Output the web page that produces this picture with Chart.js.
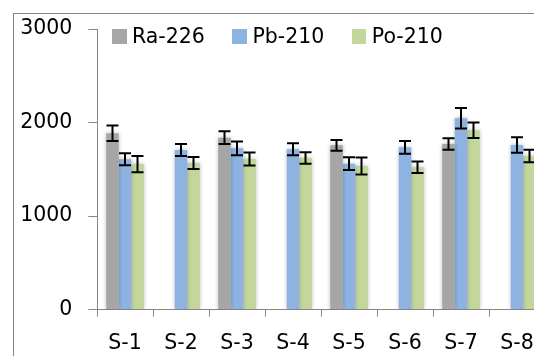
<!DOCTYPE html>
<html>
<head>
<meta charset="utf-8">
<script src="https://cdn.jsdelivr.net/npm/chart.js@4/dist/chart.umd.min.js"></script>
<style>
  html, body { margin: 0; padding: 0; background: #ffffff; overflow: hidden; width: 534px; height: 356px; }
  #frame { position: absolute; left: 13px; top: 13px; width: 700px; height: 700px;
           border-left: 1px solid #868686; border-top: 1px solid #868686; box-sizing: border-box; }
  #wrap { position: absolute; left: 0; top: 0; width: 600px; height: 356px; }
  #legend { position: absolute; left: 112px; top: 26px; height: 20px; display: flex; align-items: center;
            font-family: 'DejaVu Sans', sans-serif; font-size: 20.5px; color: #000; }
  #legend .item { display: flex; align-items: center; margin-right: 27.5px; }
  #legend .box { width: 14.5px; height: 15px; margin-right: 5.5px; }
  #legend .txt { line-height: 20px; white-space: nowrap; }
</style>
</head>
<body>
<div id="frame"></div>
<div id="wrap"><canvas id="chart" width="600" height="356"></canvas></div>
<div id="legend"></div>
<script>
// Sampling sites
const categories = ['S-1', 'S-2', 'S-3', 'S-4', 'S-5', 'S-6', 'S-7', 'S-8'];

// Activity values per nuclide (null = not measured)
const ra226 = [1886, null, 1839, null, 1757, null, 1771, null];
const pb210 = [1607, 1707, 1725, 1714, 1560, 1736, 2046, 1760];
const po210 = [1557, 1568, 1611, 1621, 1536, 1522, 1918, 1643];

// Uncertainties (±)
const ra226Err = [82, null, 68, null, 57, null, 62, null];
const pb210Err = [64, 64, 73, 64, 68, 68, 109, 82];
const po210Err = [87, 64, 70, 62, 91, 61, 82, 66];

// Value axis ticks
const yTicks = [0, 1000, 2000, 3000];

const FONT = "'DejaVu Sans', sans-serif";
const AXIS_COLOR = '#868686';

// Soft halo under each bar
const barShadow = {
  id: 'barShadow',
  beforeDatasetDraw(chart) {
    const ctx = chart.ctx;
    ctx.save();
    ctx.shadowColor = 'rgba(0,0,0,0.28)';
    ctx.shadowBlur = 4;
    ctx.shadowOffsetX = 0;
    ctx.shadowOffsetY = 0;
  },
  afterDatasetDraw(chart) {
    chart.ctx.restore();
  }
};

// Error bars drawn from each dataset's errors array
const errorBars = {
  id: 'errorBars',
  afterDatasetsDraw(chart) {
    const ctx = chart.ctx;
    const y = chart.scales.y;
    ctx.save();
    ctx.strokeStyle = '#000000';
    ctx.lineWidth = 2;
    chart.data.datasets.forEach((ds, i) => {
      const meta = chart.getDatasetMeta(i);
      meta.data.forEach((bar, j) => {
        const v = ds.data[j];
        const e = ds.errors[j];
        if (v == null || e == null) return;
        const x = bar.x;
        const half = 6;
        const top = y.getPixelForValue(v + e);
        const bot = y.getPixelForValue(v - e);
        ctx.beginPath();
        ctx.moveTo(x, top); ctx.lineTo(x, bot);
        ctx.moveTo(x - half, top); ctx.lineTo(x + half, top);
        ctx.moveTo(x - half, bot); ctx.lineTo(x + half, bot);
        ctx.stroke();
      });
    });
    ctx.restore();
  }
};

const chart = new Chart(document.getElementById('chart'), {
  type: 'bar',
  data: {
    labels: categories,
    datasets: [
      { label: 'Ra-226', data: ra226, errors: ra226Err, backgroundColor: '#A6A6A6' },
      { label: 'Pb-210', data: pb210, errors: pb210Err, backgroundColor: '#8DB3E2' },
      { label: 'Po-210', data: po210, errors: po210Err, backgroundColor: '#C3D69B' }
    ]
  },
  options: {
    responsive: false,
    animation: false,
    devicePixelRatio: 1,
    layout: { padding: { left: 0, right: 55, top: 29, bottom: 0 } },
    datasets: { bar: { categoryPercentage: 0.67, barPercentage: 1.0, borderWidth: 0 } },
    plugins: { legend: { display: false }, tooltip: { enabled: false } },
    scales: {
      x: {
        offset: true,
        grid: { offset: true, drawOnChartArea: false, drawTicks: true, tickLength: 7, color: AXIS_COLOR, lineWidth: 1 },
        border: { display: true, color: AXIS_COLOR, width: 1 },
        ticks: { color: '#000', font: { family: FONT, size: 20.5 }, padding: 14.5, maxRotation: 0, autoSkip: false },
        afterFit(s) { s.height = 46.3; }
      },
      y: {
        min: 0, max: 3000,
        afterBuildTicks(s) { s.ticks = yTicks.map(v => ({ value: v })); },
        grid: { drawOnChartArea: false, drawTicks: true, tickLength: 8.7, color: AXIS_COLOR, lineWidth: 1 },
        border: { display: true, color: AXIS_COLOR, width: 1 },
        ticks: { color: '#000', font: { family: FONT, size: 20.5 }, padding: 16, callback: v => String(v) },
        afterFit(s) { s.width = 97; }
      }
    }
  },
  plugins: [barShadow, errorBars]
});

// HTML legend built from the chart's datasets
const legendEl = document.getElementById('legend');
chart.data.datasets.forEach(ds => {
  const item = document.createElement('div');
  item.className = 'item';
  const box = document.createElement('span');
  box.className = 'box';
  box.style.background = ds.backgroundColor;
  const txt = document.createElement('span');
  txt.className = 'txt';
  txt.textContent = ds.label;
  item.appendChild(box);
  item.appendChild(txt);
  legendEl.appendChild(item);
});
</script>
</body>
</html>
